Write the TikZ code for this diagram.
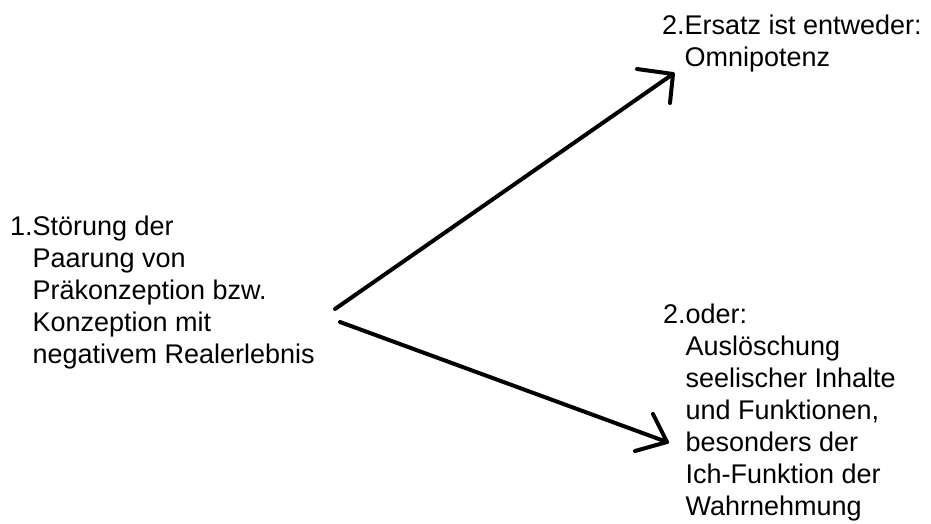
\documentclass[tikz,border=0pt]{standalone}
\usepackage{fontspec}
\setmainfont{Liberation Sans}
\begin{document}
\begin{tikzpicture}[x=1pt,y=-1pt,
  txt/.style={inner sep=0pt,outer sep=0pt,anchor=base west,font=\fontsize{27}{32}\selectfont},
  stroke/.style={line width=4pt,line cap=round,line join=round,black}]
\useasboundingbox[fill=white] (0,0) rectangle (931,523);
\node[txt] (left) at (10,235) {\begin{tabular}[t]{@{}l@{}l@{}}1.&Störung der\\&Paarung von\\&Präkonzeption bzw.\\&Konzeption mit\\&negativem Realerlebnis\end{tabular}};
\node[txt] (top) at (662,34) {\begin{tabular}[t]{@{}l@{}l@{}}2.&Ersatz ist entweder:\\&Omnipotenz\end{tabular}};
\node[txt] (bottom) at (663,323) {\begin{tabular}[t]{@{}l@{}l@{}}2.&oder:\\&Auslöschung\\&seelischer Inhalte\\&und Funktionen,\\&besonders der\\&Ich-Funktion der\\&Wahrnehmung\end{tabular}};
\coordinate (s1) at (335,309);
\coordinate (t1) at (673,74);
\coordinate (a1) at (637,69);
\coordinate (b1) at (670,103);
\coordinate (s2) at (340,322);
\coordinate (t2) at (667,442);
\coordinate (a2) at (653,414);
\coordinate (b2) at (635,451);
\draw[stroke] (s1) -- (t1);
\draw[stroke] (a1) -- (t1) -- (b1);
\draw[stroke] (s2) -- (t2);
\draw[stroke] (a2) -- (t2) -- (b2);
\end{tikzpicture}
\end{document}
